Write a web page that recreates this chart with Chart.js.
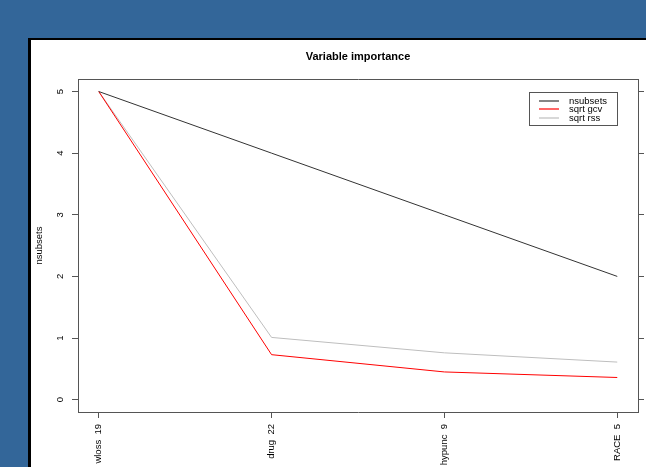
<!DOCTYPE html>
<html>
<head>
<meta charset="utf-8">
<script src="https://cdn.jsdelivr.net/npm/chart.js@4.4.1/dist/chart.umd.min.js"></script>
<style>
  html, body { margin: 0; padding: 0; }
  body { width: 646px; height: 467px; background: #336699; overflow: hidden; position: relative; }
  #panel {
    position: absolute; left: 28px; top: 38px;
    width: 615px; height: 427px;
    background: #fff;
    border-left: 3px solid #000; border-top: 2px solid #000;
  }
  #chart1 { display: block; }
</style>
</head>
<body>
<div id="panel"><canvas id="chart1" width="615" height="427"></canvas></div>
<script>
  var variables = ["wloss  19", "drug  22", "hypunc  9", "RACE  5"];
  var nsubsets = [5, 4, 3, 2];
  var sqrtGcv = [5, 0.73, 0.45, 0.36];
  var sqrtRss = [5, 1.01, 0.76, 0.61];
  var yTicks = [0, 1, 2, 3, 4, 5];

  var fuente = "'Liberation Sans', Arial, sans-serif";
  Chart.defaults.font.family = fuente;
  Chart.defaults.font.size = 9.5;
  Chart.defaults.color = "#000";

  // cada variable va en x = 1..n
  function puntos(valores) {
    return valores.map(function (v, i) { return { x: i + 1, y: v }; });
  }

  function ticksY(s) {
    s.ticks = yTicks.map(function (v) { return { value: v }; });
  }

  // leyenda con caja, anclada en (ultima variable, 5)
  var leyenda = {
    id: "leyenda",
    afterDatasetsDraw: function (chart) {
      var ctx = chart.ctx;
      var x1 = Math.round(chart.scales.x.getPixelForValue(variables.length));
      var y0 = Math.round(chart.scales.y.getPixelForValue(5));
      var w = 88, h = 33;
      var x0 = x1 - w;
      ctx.save();
      ctx.fillStyle = "#fff";
      ctx.fillRect(x0, y0, w, h);
      ctx.strokeStyle = "#555";
      ctx.lineWidth = 1;
      ctx.strokeRect(x0 + 0.5, y0 + 0.5, w, h);
      ctx.font = "9.5px " + fuente;
      ctx.textBaseline = "middle";
      chart.data.datasets.forEach(function (ds, i) {
        var y = Math.round(y0 + 8.7 + i * 8.5);
        ctx.strokeStyle = ds.borderColor;
        ctx.lineWidth = 1.2;
        ctx.beginPath();
        ctx.moveTo(x0 + 10, y);
        ctx.lineTo(x0 + 30, y);
        ctx.stroke();
        ctx.fillStyle = "#000";
        ctx.fillText(ds.label, x0 + 40, y + 0.5);
      });
      ctx.restore();
    }
  };

  var grafico1 = new Chart(document.getElementById("chart1"), {
    type: "line",
    data: {
      datasets: [{
        label: "nsubsets",
        data: puntos(nsubsets),
        borderColor: "#333",
        borderWidth: 1
      }, {
        label: "sqrt gcv",
        data: puntos(sqrtGcv),
        borderColor: "#ff0000",
        borderWidth: 1
      }, {
        label: "sqrt rss",
        data: puntos(sqrtRss),
        borderColor: "#bebebe",
        borderWidth: 1
      }]
    },
    options: {
      responsive: false,
      animation: false,
      layout: { padding: 0 },
      elements: { point: { radius: 0 }, line: { tension: 0 } },
      plugins: {
        legend: { display: false },
        tooltip: { enabled: false },
        title: {
          display: true,
          text: "Variable importance",
          fullSize: false,
          color: "#000",
          font: { size: 11, weight: "bold" },
          padding: { top: 10, bottom: 16 }
        }
      },
      scales: {
        x: {
          type: "linear",
          position: "bottom",
          min: 0.88,
          max: variables.length + 0.12,
          afterBuildTicks: function (s) {
            s.ticks = variables.map(function (n, i) { return { value: i + 1 }; });
          },
          afterFit: function (s) { s.height = 55; },
          ticks: {
            autoSkip: false,
            minRotation: 90,
            maxRotation: 90,
            padding: 6,
            callback: function (v) { return variables[v - 1]; }
          },
          grid: { drawOnChartArea: false, tickLength: 6, color: "#555" },
          border: { color: "#555" }
        },
        xArriba: {
          type: "linear",
          position: "top",
          min: 0.88,
          max: variables.length + 0.12,
          afterFit: function (s) { s.height = 0; },
          ticks: { display: false },
          grid: { display: false },
          border: { color: "#555" }
        },
        y: {
          position: "left",
          min: -0.2,
          max: 5.2,
          afterBuildTicks: ticksY,
          afterFit: function (s) { s.width = 47; },
          ticks: { minRotation: 90, crossAlign: "center", padding: 9 },
          grid: { drawOnChartArea: false, tickLength: 6, color: "#555" },
          border: { color: "#555" },
          title: { display: true, text: "nsubsets", padding: { top: 3, bottom: 0 } }
        },
        yDer: {
          position: "right",
          min: -0.2,
          max: 5.2,
          afterBuildTicks: ticksY,
          afterFit: function (s) { s.width = 8; },
          ticks: { display: false },
          grid: { drawOnChartArea: false, tickLength: 6, color: "#555" },
          border: { color: "#555" }
        }
      }
    },
    plugins: [leyenda]
  });
</script>
</body>
</html>
